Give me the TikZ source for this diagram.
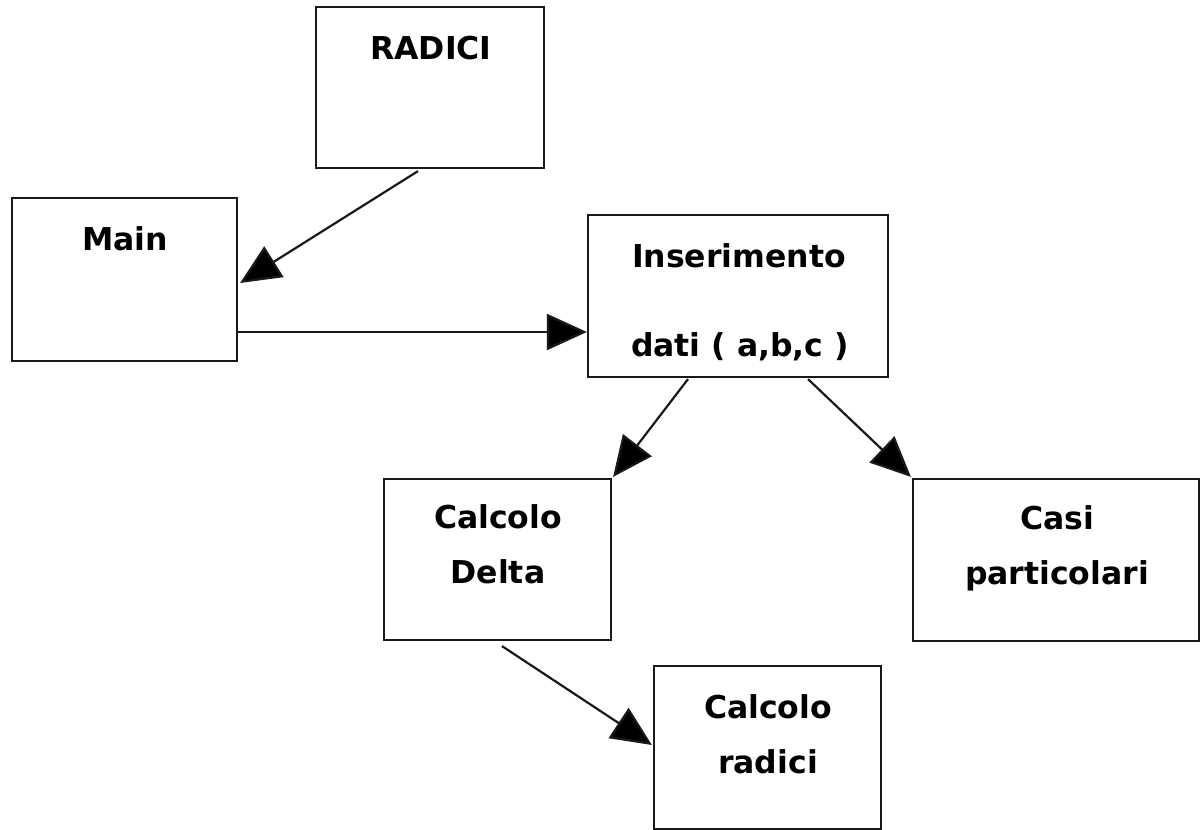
\documentclass[tikz,border=0pt]{standalone}
\usepackage{fontspec}
\setmainfont{DejaVu Sans}
\usetikzlibrary{arrows.meta,calc}
\begin{document}
\begin{tikzpicture}[x=1pt,y=-1pt,
  box/.style={draw=black!90, line width=2.2pt, rectangle, inner sep=0pt},
  lbl/.style={font=\bfseries\fontsize{31.5}{37}\selectfont, anchor=base, inner sep=0pt, text=black},
  link/.style={draw=black!90, line width=2.2pt, -{Triangle[length=40pt,width=36pt,fill=black]}}]
\useasboundingbox (0,0) rectangle (1200,830);

% boxes
\node[box, minimum width=228pt, minimum height=161pt] (radici) at (430,87.5) {};
\node[box, minimum width=225pt, minimum height=163pt] (main) at (124.5,279.5) {};
\node[box, minimum width=300pt, minimum height=162pt] (ins) at (738,296) {};
\node[box, minimum width=227pt, minimum height=161pt] (delta) at (497.5,559.5) {};
\node[box, minimum width=286pt, minimum height=162pt] (casi) at (1056,560) {};
\node[box, minimum width=227pt, minimum height=163pt] (calcrad) at (767.5,747.5) {};

% labels
\node[lbl] (radici-t) at (431,59) {RADICI};
\node[lbl] (main-t) at (125,250) {Main};
\node[lbl] (ins-t1) at (739,267) {Inserimento};
\node[lbl] (ins-t2) at (740,356) {dati ( a,b,c )};
\node[lbl] (delta-t1) at (498,528) {Calcolo};
\node[lbl] (delta-t2) at (498,583) {Delta};
\node[lbl] (casi-t1) at (1057,529) {Casi};
\node[lbl] (casi-t2) at (1057,584) {particolari};
\node[lbl] (calcrad-t1) at (768,718) {Calcolo};
\node[lbl] (calcrad-t2) at (768,773) {radici};

% connectors
\draw[link] ($(radici.south)+(-12,2)$) -- ($(main.east)+(2,3.5)$);
\draw[link] ($(main.east)+(0,52.5)$) -- ($(ins.west)+(0,36)$);
\draw[link] ($(ins.south)+(-50,1)$) -- ($(delta.north east)+(1,-1)$);
\draw[link] ($(ins.south)+(70,1)$) -- ($(casi.north west)+(-1,-1)$);
\draw[link] ($(delta.south)+(4.5,5)$) -- ($(calcrad.west)+(-1,-2.5)$);
\end{tikzpicture}
\end{document}
